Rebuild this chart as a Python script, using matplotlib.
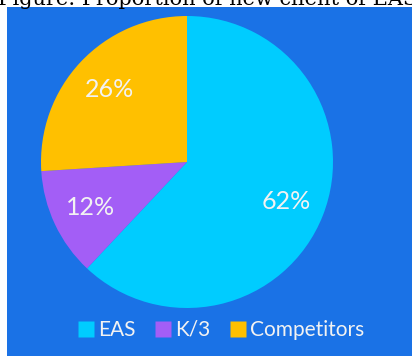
import matplotlib
matplotlib.use("Agg")
import matplotlib.pyplot as plt
from matplotlib.patches import Rectangle
from matplotlib.lines import Line2D

categories = ["EAS", "K/3", "Competitors"]
values = [62, 12, 26]
colors = ["#00CCFF", "#A35EF6", "#FFC000"]
bg = "#1A72E6"

W, H = 412, 356
fig = plt.figure(figsize=(W / 100, H / 100), dpi=100)
fig.patch.set_facecolor("white")

# blue panel
fig.patches.append(Rectangle((7 / W, 0), 1 - 7 / W, (H - 7) / H,
                             transform=fig.transFigure, facecolor=bg,
                             edgecolor="none", zorder=-5))

# clipped caption at top
fig.text(-0.005, 1 - 5 / H, "Figure: Proportion of new client of EAS",
         family="DejaVu Serif", fontsize=15, va="baseline", ha="left",
         color="black")

cx, cy, r = 187, 162, 146
ax = fig.add_axes([(cx - r) / W, (H - cy - r) / H, 2 * r / W, 2 * r / H])
ax.set_zorder(2)
ax.patch.set_visible(False)
wedges, texts, autotexts = ax.pie(
    values, colors=colors, startangle=90, counterclock=False,
    autopct=lambda p: f"{p:.0f}%", pctdistance=0.73, radius=1,
    wedgeprops=dict(linewidth=0),
    textprops=dict(color="#F2F2F2", fontsize=18, family="Lato"))
ax.set_xlim(-1, 1)
ax.set_ylim(-1, 1)
ax.set_aspect("auto")
ax.axis("off")

handles = [Line2D([0], [0], marker="s", linestyle="none", markersize=11,
                  markerfacecolor=c, markeredgecolor="none") for c in colors]
leg = fig.legend(handles, categories, loc="center", ncol=3,
                 bbox_to_anchor=(0.535, 26 / H), frameon=False,
                 handletextpad=0.1, columnspacing=0.9, handlelength=0.9,
                 prop=dict(family="Lato", size=15))
for t in leg.get_texts():
    t.set_color("#F2F2F2")

fig.savefig("out.png", dpi=100, facecolor=fig.get_facecolor())
